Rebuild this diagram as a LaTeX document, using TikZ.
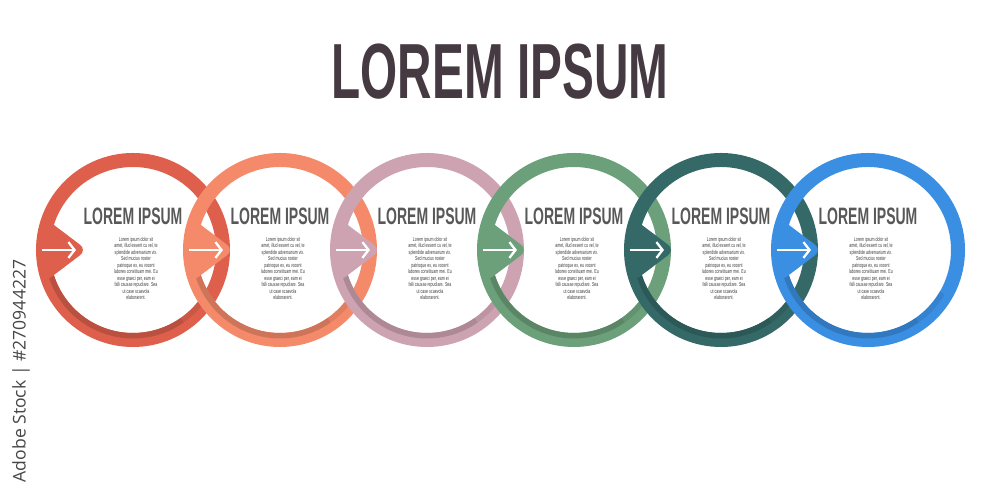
\documentclass[tikz,border=0pt]{standalone}
\usepackage{fontspec}
\setmainfont{Liberation Sans}
\newfontfamily\stockfont{Open Sans}
\usepackage{tikz}
\usetikzlibrary{arrows.meta}

\definecolor{ringA}{RGB}{222,96,76}
\definecolor{ringB}{RGB}{244,138,106}
\definecolor{ringC}{RGB}{206,163,177}
\definecolor{ringD}{RGB}{108,160,122}
\definecolor{ringE}{RGB}{52,105,104}
\definecolor{ringF}{RGB}{58,143,227}
\definecolor{titlegray}{RGB}{70,58,66}
\definecolor{headgray}{RGB}{88,88,88}
\definecolor{bodygray}{RGB}{60,60,60}
\definecolor{markgray}{RGB}{70,70,70}

\newcommand{\bodytext}{Lorem ipsum dolor sit\\amet, illud essent cu vel, te\\splendide adversarium vix.\\Sed mucius noster\\patrioque ex, eu vocent\\labores constituam mei. Eu\\esse graeci per, eam ei\\falli causae repudiare. Sea\\ut case scaevola\\elaborarent.}

\begin{document}
\begin{tikzpicture}[>={Straight Barb[length=3.5pt,width=9pt]},
    ring/.style={line width=0.28cm},
    band/.style={line width=0.11cm},
    head/.style={font=\fontsize{13.5}{15}\selectfont\bfseries, text=headgray, xscale=0.59, inner sep=0},
    body/.style={font=\fontsize{3.3}{3.7}\selectfont, text=bodygray, align=center, xscale=0.62, inner sep=0}]
    \useasboundingbox (0,0) rectangle (20,10);
    % 1. Tieu de
    \node[font=\fontsize{44.5}{50}\selectfont\bfseries, text=titlegray, xscale=0.61] (title) at (10,8.56) {LOREM IPSUM};
    % 2. Sau vong tron
    \foreach \i/\col in {0/ringA,1/ringB,2/ringC,3/ringD,4/ringE,5/ringF}{
        \coordinate (c\i) at ({2.66+2.94*\i},5);
        \draw[ring, draw=\col] (c\i) circle (1.80);
        \draw[band, draw=\col!84!black] ([shift={(197:1.715)}]c\i) arc (197:305:1.715);
        \draw[band, draw=\col!84!black, opacity=0.5] ([shift={(305:1.715)}]c\i) arc (305:330:1.715);
        % mui ten
        \fill[\col, rounded corners=5pt] ([shift={(-1.78,0.65)}]c\i) -- ([shift={(-0.92,0)}]c\i)
            -- ([shift={(-1.78,-0.65)}]c\i) -- cycle;
        \coordinate (a\i) at ([shift={(-1.82,0)}]c\i);
        \coordinate (b\i) at ([shift={(-1.14,0)}]c\i);
        \draw[->, white, line width=1.3pt] (a\i) -- (b\i);
        % chu
        \node[head] (head\i) at ([shift={(0,0.67)}]c\i) {LOREM IPSUM};
        \node[body] (body\i) at ([shift={(0.06,-0.37)}]c\i) {\bodytext};
    }
    % 3. Ghi chu doc
    \node[rotate=90, font=\stockfont\fontsize{10}{12}\selectfont, text=markgray] (stock) at (0.42,2.58) {Adobe Stock | \#270944227};
\end{tikzpicture}
\end{document}
